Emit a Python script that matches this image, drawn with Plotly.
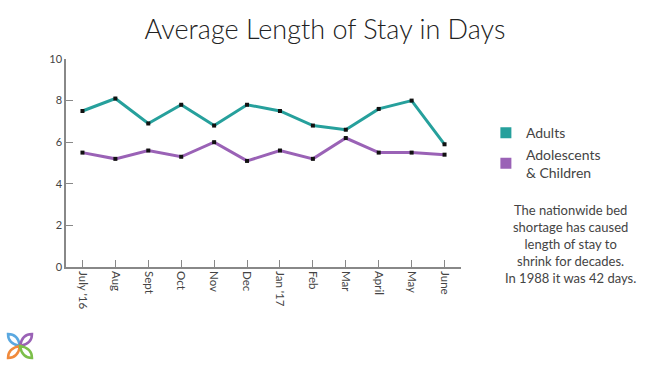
import plotly.graph_objects as go

months = ["July '16", "Aug", "Sept", "Oct", "Nov", "Dec", "Jan '17", "Feb", "Mar", "April", "May", "June"]
adults = [7.5, 8.1, 6.9, 7.8, 6.8, 7.8, 7.5, 6.8, 6.6, 7.6, 8.0, 5.9]
kids = [5.5, 5.2, 5.6, 5.3, 6.0, 5.1, 5.6, 5.2, 6.2, 5.5, 5.5, 5.4]
y_ticks = [0, 2, 4, 6, 8, 10]
note_lines = ["The nationwide bed", "shortage has caused", "length of stay to",
              "shrink for decades.", "In 1988 it was 42 days."]

teal = "#26a09c"
purple = "#9a62b6"
font = "Lato"
txt = "#444444"

fig = go.Figure()
fig.add_trace(go.Scatter(x=months, y=adults, mode="lines+markers",
                         line=dict(color=teal, width=3),
                         marker=dict(symbol="square", size=4, color="#111111"),
                         showlegend=False, hoverinfo="x+y"))
fig.add_trace(go.Scatter(x=months, y=kids, mode="lines+markers",
                         line=dict(color=purple, width=3),
                         marker=dict(symbol="square", size=4, color="#111111"),
                         showlegend=False, hoverinfo="x+y"))
# legend-only entries with square swatches
fig.add_trace(go.Scatter(x=[None], y=[None], mode="markers", name="Adults",
                         marker=dict(symbol="square", size=11, color=teal)))
fig.add_trace(go.Scatter(x=[None], y=[None], mode="markers", name="Adolescents<br>& Children",
                         marker=dict(symbol="square", size=11, color=purple)))

fig.update_layout(
    width=650, height=366,
    paper_bgcolor="white", plot_bgcolor="white",
    margin=dict(l=66, r=189, t=59, b=99),
    font=dict(family=font, color=txt, size=11),
    title=dict(text="Average Length of Stay in Days", x=0.5, xref="container", xanchor="center",
               y=0.945, yanchor="top", yref="container",
               font=dict(family=font, size=27, color="#222222", weight=300)),
    showlegend=True,
    legend=dict(x=1.063, xanchor="left", y=0.72, yanchor="top",
                font=dict(family=font, size=14, color=txt),
                bgcolor="rgba(0,0,0,0)", itemwidth=30, tracegroupgap=2),
)
fig.update_xaxes(type="category", range=[-0.5, 11.5], showline=True, linecolor="#888888",
                 linewidth=1.5, ticks="inside", ticklen=7, tickcolor="#888888",
                 tickangle=90, showgrid=False, zeroline=False,
                 tickfont=dict(family=font, size=11.5, color=txt))
fig.update_yaxes(range=[0, 10], tickvals=y_ticks, showline=True, linecolor="#888888",
                 linewidth=1.5, ticks="inside", ticklen=7, tickcolor="#888888",
                 showgrid=False, zeroline=False,
                 tickfont=dict(family=font, size=11, color=txt))

def px(xp, yp):
    return ((xp - 66) / 395.0, (267 - yp) / 208.0)

ax, ay = px(570, 244)
fig.add_annotation(xref="paper", yref="paper", x=ax, y=ay, xanchor="center", yanchor="middle",
                   showarrow=False, align="center", text="<br>".join(note_lines),
                   font=dict(family=font, size=13, color=txt))

# small four-petal logo at bottom-left
cx, cy = 20, 346
petals = [(-1, -1, "#5aa8e0"), (1, -1, "#9a62b6"), (-1, 1, "#f08a3c"), (1, 1, "#7cbf4a")]
for dx, dy, col in petals:
    x0, y0 = px(cx, cy)
    x1, y1 = px(cx + dx * 12, cy + dy * 12)
    xa, ya = px(cx + dx * 12, cy + dy * 2)
    xb, yb = px(cx + dx * 2, cy + dy * 12)
    path = f"M {x0},{y0} Q {xa},{ya} {x1},{y1} Q {xb},{yb} {x0},{y0} Z"
    fig.add_shape(type="path", path=path, xref="paper", yref="paper",
                  line=dict(color=col, width=2.5), fillcolor="rgba(0,0,0,0)")

fig.write_html("out.html", config={"displayModeBar": False},
               post_script="document.body.style.margin='0';")
